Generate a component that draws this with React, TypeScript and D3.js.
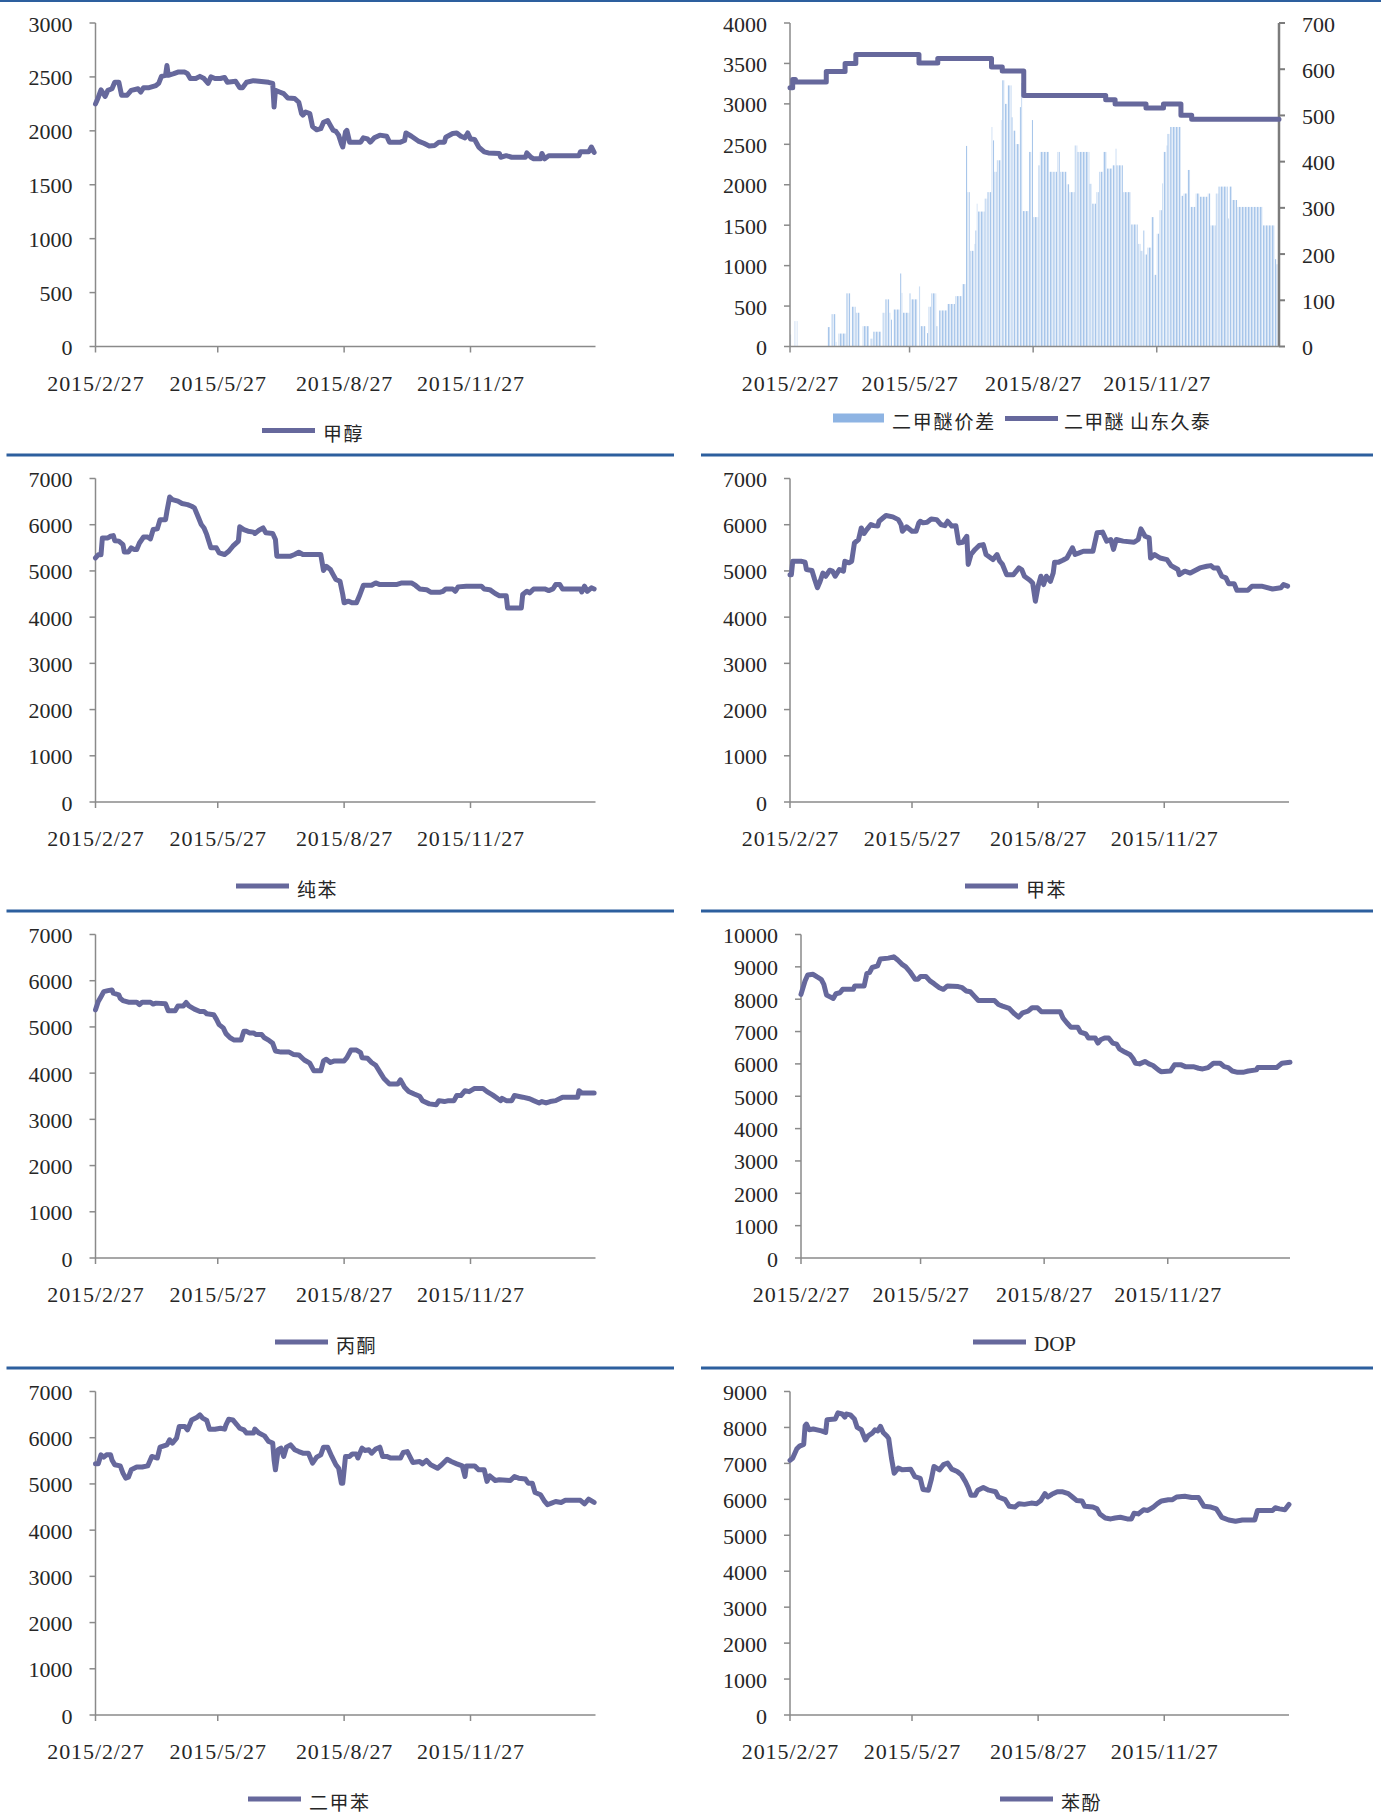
import * as d3 from "d3";

// days counted from 2015/2/27
const START = new Date(2015, 1, 27);
const END = d3.timeDay.offset(START, 364);

const tickDates = [new Date(2015, 1, 27), new Date(2015, 4, 27), new Date(2015, 7, 27), new Date(2015, 10, 27)];
const tickLabels = ["2015/2/27", "2015/5/27", "2015/8/27", "2015/11/27"];

type Pt = [number, number];
type Seg = [number, number, number];

const methanol: Pt[] = [[0,2250],[2,2310],[4,2380],[7,2320],[9,2375],[12,2390],[14,2450],[17,2450],[19,2330],[23,2330],[26,2375],[31,2390],[33,2360],[35,2400],[39,2400],[44,2420],[46,2440],[48,2505],[51,2515],[52,2605],[53,2515],[57,2530],[60,2545],[65,2545],[67,2530],[69,2485],[73,2485],[76,2505],[79,2485],[82,2440],[84,2500],[87,2485],[91,2485],[94,2495],[96,2450],[102,2460],[105,2400],[107,2400],[110,2450],[115,2465],[119,2460],[126,2450],[129,2440],[130,2220],[131,2375],[134,2360],[137,2345],[140,2305],[145,2300],[148,2265],[150,2160],[151,2145],[153,2175],[156,2160],[158,2040],[161,2010],[164,2020],[166,2080],[169,2095],[171,2050],[173,2005],[175,1995],[177,1960],[179,1880],[180,1850],[182,1990],[183,2005],[185,1895],[193,1895],[195,1935],[198,1925],[200,1895],[203,1935],[207,1960],[212,1950],[214,1895],[222,1895],[225,1910],[226,1980],[230,1950],[235,1905],[239,1885],[243,1860],[247,1865],[250,1895],[254,1895],[255,1940],[260,1975],[263,1980],[266,1950],[269,1935],[271,1980],[273,1925],[276,1920],[279,1850],[283,1805],[286,1795],[294,1790],[295,1755],[299,1770],[303,1755],[313,1755],[314,1795],[317,1755],[319,1740],[324,1740],[325,1790],[327,1740],[330,1770],[352,1770],[353,1805],[359,1805],[361,1850],[363,1800]];

const dmeSpread: Seg[] = [[0,1,26],[3,4,55],[5,6,55],[28,30,42],[31,34,70],[34,35,10],[36,42,28],[42,45,115],[46,49,86],[49,52,73],[54,59,44],[60,62,17],[62,68,32],[69,71,73],[71,74,102],[74,75,73],[75,76,58],[77,82,80],[82,83,158],[83,84,116],[84,89,73],[89,90,115],[90,95,102],[96,97,130],[97,101,44],[102,103,29],[103,105,86],[105,109,115],[109,110,44],[111,117,78],[117,123,92],[123,128,109],[128,131,135],[131,132,434],[132,134,334],[134,137,207],[137,138,222],[138,139,251],[139,140,309],[140,145,292],[145,147,320],[147,150,334],[150,151,475],[151,152,446],[152,154,378],[154,157,403],[157,158,490],[158,160,576],[160,162,525],[162,165,565],[165,166,496],[166,168,467],[168,171,438],[171,172,518],[172,173,570],[173,178,293],[178,180,421],[180,181,490],[181,185,280],[185,186,392],[186,193,421],[193,196,378],[196,199,378],[199,201,421],[201,206,378],[206,208,351],[208,212,334],[212,214,435],[214,223,421],[223,225,352],[225,228,309],[228,230,334],[230,233,378],[233,236,421],[236,240,385],[240,242,392],[242,243,428],[243,248,392],[248,254,334],[254,259,264],[259,261,222],[261,263,207],[263,264,251],[264,266,199],[266,269,214],[269,271,280],[271,273,155],[273,275,244],[275,277,295],[277,278,353],[278,280,421],[280,281,435],[281,283,460],[283,291,475],[291,293,326],[293,296,331],[296,298,382],[298,302,302],[302,305,331],[305,311,324],[311,313,331],[313,317,262],[317,319,331],[319,326,346],[326,327,277],[327,329,346],[329,333,317],[333,352,302],[352,361,262],[361,362,189],[362,364,178]];

const dmePrice: Pt[] = [[0,3200],[2,3300],[4,3270],[27,3400],[41,3500],[49,3610],[96,3505],[110,3560],[150,3455],[158,3405],[174,3105],[235,3050],[242,3000],[265,2950],[278,3000],[291,2860],[299,2810],[364,2810]];

const benzene: Pt[] = [[0,5280],[2,5350],[4,5350],[5,5715],[9,5715],[11,5750],[13,5765],[14,5655],[17,5645],[20,5570],[21,5410],[24,5410],[26,5500],[28,5465],[30,5465],[32,5605],[35,5735],[38,5735],[40,5695],[42,5895],[45,5910],[47,6110],[51,6110],[52,6290],[54,6600],[56,6545],[60,6510],[63,6460],[67,6435],[70,6400],[72,6365],[75,6150],[77,6005],[79,5930],[81,5785],[84,5500],[88,5500],[90,5390],[94,5355],[97,5425],[100,5535],[104,5645],[105,5955],[108,5895],[111,5860],[115,5840],[116,5810],[119,5880],[122,5930],[124,5825],[129,5810],[131,5680],[132,5320],[142,5320],[145,5355],[148,5405],[151,5355],[164,5355],[166,5010],[168,5100],[171,5030],[173,4920],[175,4815],[178,4775],[180,4490],[181,4310],[184,4345],[187,4310],[190,4310],[192,4450],[195,4690],[201,4690],[204,4740],[207,4705],[219,4705],[223,4740],[230,4740],[233,4685],[236,4610],[241,4595],[244,4540],[251,4540],[253,4560],[255,4610],[260,4610],[262,4560],[264,4655],[270,4670],[281,4670],[283,4610],[287,4595],[291,4510],[294,4465],[299,4465],[300,4200],[310,4200],[311,4490],[314,4560],[316,4525],[319,4610],[327,4610],[330,4575],[333,4610],[335,4705],[338,4705],[340,4610],[353,4610],[354,4545],[356,4670],[358,4560],[361,4635],[363,4610]];

const toluene: Pt[] = [[0,4920],[1,4920],[2,5210],[8,5210],[11,5190],[12,5030],[16,5010],[18,4815],[20,4635],[22,4775],[24,4955],[26,4885],[29,5015],[31,4995],[33,4885],[36,5030],[39,4995],[40,5210],[43,5175],[45,5210],[47,5605],[50,5680],[52,5930],[54,5810],[56,5895],[59,6005],[61,5980],[64,5970],[65,6075],[68,6150],[70,6200],[75,6170],[79,6110],[81,6005],[82,5860],[85,5955],[89,5860],[92,5860],[94,6040],[95,6075],[97,6040],[100,6055],[103,6125],[107,6110],[110,6005],[113,5980],[115,6075],[118,5970],[121,5980],[123,5605],[126,5620],[129,5750],[130,5140],[132,5355],[135,5465],[138,5550],[141,5570],[143,5355],[148,5245],[151,5355],[153,5210],[155,5140],[158,4920],[163,4920],[167,5065],[169,5030],[171,4885],[175,4800],[177,4740],[179,4345],[181,4670],[183,4885],[185,4705],[187,4885],[190,4775],[192,4955],[193,5190],[196,5190],[199,5230],[202,5280],[206,5500],[208,5355],[211,5390],[214,5425],[221,5425],[224,5825],[228,5840],[231,5645],[234,5680],[236,5465],[238,5680],[243,5645],[251,5620],[254,5680],[256,5910],[259,5750],[262,5715],[263,5280],[266,5355],[270,5280],[275,5245],[278,5115],[283,5030],[284,4920],[288,4995],[292,4955],[299,5065],[304,5100],[307,5115],[309,5065],[312,5065],[315,4885],[318,4850],[320,4725],[324,4725],[326,4580],[334,4580],[337,4670],[344,4670],[352,4610],[358,4635],[360,4705],[363,4670]];

const acetone: Pt[] = [[0,5370],[2,5550],[4,5655],[6,5765],[9,5785],[12,5800],[13,5730],[17,5695],[18,5620],[20,5570],[24,5535],[30,5535],[32,5480],[34,5535],[40,5535],[42,5495],[44,5515],[51,5500],[53,5350],[58,5350],[60,5455],[64,5455],[66,5530],[68,5455],[72,5385],[76,5335],[79,5335],[81,5285],[86,5265],[88,5170],[90,5050],[93,4980],[95,4855],[98,4765],[101,4715],[106,4715],[108,4905],[110,4905],[112,4870],[115,4870],[117,4835],[121,4835],[123,4765],[126,4715],[129,4645],[131,4480],[135,4455],[141,4455],[144,4405],[148,4395],[152,4285],[156,4215],[159,4050],[164,4050],[166,4265],[168,4300],[171,4230],[174,4265],[181,4265],[183,4335],[186,4500],[190,4500],[193,4445],[194,4335],[198,4320],[201,4230],[204,4170],[208,3980],[210,3885],[214,3765],[220,3765],[222,3855],[225,3695],[228,3605],[232,3550],[236,3500],[238,3405],[243,3335],[248,3315],[250,3405],[254,3385],[257,3405],[261,3405],[263,3515],[266,3515],[269,3620],[272,3600],[276,3670],[282,3670],[285,3600],[289,3530],[293,3445],[295,3405],[296,3455],[299,3405],[303,3405],[305,3515],[311,3480],[316,3445],[319,3405],[323,3355],[325,3385],[328,3355],[331,3385],[335,3405],[340,3480],[351,3480],[352,3620],[354,3570],[363,3570]];

const dop: Pt[] = [[0,8150],[3,8565],[5,8750],[9,8770],[12,8690],[15,8615],[17,8460],[19,8130],[22,8065],[24,8025],[26,8170],[29,8200],[31,8305],[39,8305],[40,8410],[47,8410],[49,8790],[51,8825],[53,8980],[57,9030],[59,9240],[65,9270],[69,9310],[72,9210],[75,9085],[78,9000],[81,8855],[85,8615],[87,8615],[89,8700],[93,8700],[96,8565],[99,8480],[103,8355],[106,8305],[109,8410],[117,8390],[120,8355],[123,8255],[126,8230],[129,8095],[132,7960],[144,7960],[147,7835],[150,7785],[155,7715],[159,7545],[162,7445],[165,7580],[169,7630],[172,7735],[176,7735],[179,7610],[193,7610],[195,7420],[198,7265],[201,7130],[206,7130],[208,6985],[212,6925],[214,6800],[219,6800],[221,6645],[223,6745],[226,6800],[229,6800],[232,6645],[235,6610],[237,6465],[241,6365],[245,6280],[247,6175],[249,6020],[252,6000],[256,6075],[259,6000],[262,5950],[266,5815],[268,5760],[275,5780],[278,5970],[283,5970],[286,5915],[292,5915],[296,5865],[299,5845],[303,5885],[307,6020],[312,6020],[315,5915],[318,5885],[321,5780],[325,5740],[329,5740],[333,5780],[339,5815],[340,5885],[354,5885],[358,6020],[364,6050]];

const xylene: Pt[] = [[0,5435],[2,5435],[4,5630],[6,5580],[8,5630],[11,5630],[12,5520],[14,5415],[18,5390],[20,5235],[22,5125],[24,5145],[26,5305],[30,5365],[34,5365],[38,5390],[41,5595],[45,5560],[47,5795],[52,5845],[54,5955],[56,5885],[59,5990],[61,6245],[65,6245],[67,6170],[70,6385],[74,6445],[76,6495],[78,6425],[81,6375],[83,6185],[87,6185],[91,6205],[94,6185],[95,6280],[97,6400],[100,6385],[103,6280],[105,6205],[108,6170],[110,6100],[115,6100],[116,6185],[119,6100],[123,6040],[126,5920],[129,5885],[130,5520],[131,5305],[133,5740],[135,5775],[137,5595],[139,5795],[142,5845],[145,5740],[148,5700],[151,5665],[155,5665],[158,5450],[161,5580],[164,5630],[166,5795],[169,5795],[172,5595],[175,5415],[177,5340],[179,5015],[180,5015],[182,5595],[185,5595],[187,5650],[190,5650],[191,5560],[194,5775],[196,5725],[199,5740],[201,5665],[204,5755],[207,5795],[209,5595],[212,5595],[215,5560],[222,5560],[224,5680],[227,5700],[231,5465],[236,5485],[238,5435],[241,5510],[244,5415],[249,5340],[252,5415],[256,5535],[259,5485],[263,5435],[267,5390],[269,5160],[270,5390],[276,5390],[279,5305],[283,5305],[285,5055],[287,5175],[291,5075],[294,5090],[302,5075],[305,5160],[308,5125],[313,5105],[315,5015],[318,5015],[320,4815],[324,4765],[327,4620],[329,4550],[332,4585],[335,4620],[339,4600],[342,4645],[353,4645],[356,4570],[359,4670],[363,4600]];

const phenol: Pt[] = [[0,7085],[2,7150],[5,7405],[7,7480],[10,7530],[11,8045],[12,8095],[14,7935],[17,7955],[23,7905],[26,7860],[27,8215],[33,8235],[35,8405],[38,8375],[40,8285],[41,8375],[44,8350],[47,8235],[49,8000],[52,7935],[55,7650],[57,7765],[60,7840],[62,7935],[64,7905],[66,8030],[68,7860],[71,7745],[72,7690],[74,7150],[76,6725],[79,6870],[82,6820],[88,6840],[91,6635],[95,6585],[97,6275],[101,6255],[103,6540],[105,6915],[109,6820],[112,6965],[115,7010],[118,6840],[122,6775],[125,6680],[128,6490],[130,6330],[132,6115],[135,6115],[137,6255],[141,6330],[145,6255],[150,6210],[152,6065],[157,5990],[160,5805],[164,5785],[167,5880],[171,5860],[176,5895],[180,5880],[183,5970],[186,6160],[188,6065],[191,6140],[195,6210],[199,6210],[203,6160],[206,6065],[209,5970],[213,5955],[215,5805],[221,5785],[224,5735],[226,5595],[230,5480],[234,5455],[237,5480],[241,5500],[246,5455],[249,5455],[251,5615],[254,5595],[258,5710],[261,5690],[265,5785],[268,5880],[271,5955],[276,5990],[279,5990],[282,6065],[288,6085],[293,6050],[298,6050],[302,5805],[307,5785],[311,5735],[315,5500],[320,5425],[325,5390],[330,5425],[339,5425],[341,5690],[352,5690],[354,5765],[357,5735],[361,5710],[364,5860]];

const LINE = "#66689c";
const AXIS = "#8a8a8a";
const TEXT = "#262626";
const SEP = "#2d5f9e";
const NUM_FONT = "'Liberation Serif', 'DejaVu Serif', serif";
const CJK_FONT = "'Noto Sans CJK SC', sans-serif";
const LINE_W = 5;

const ROWS = [-0.5, 455, 911, 1368];

const dayDate = (d: number) => d3.timeDay.offset(START, d);

interface PanelProps {
  x0: number;
  x1: number;
  row: number;
  yMax: number;
  yStep: number;
  data: Pt[];
  step?: boolean;
  legendX?: number;
  legendText?: string;
  rightMax?: number;
  rightStep?: number;
  bars?: Seg[];
}

function Panel({ x0, x1, row, yMax, yStep, data, step, legendX, legendText, rightMax, rightStep, bars }: PanelProps) {
  const top = row + 23.5;
  const bottom = row + 347;
  const x = d3.scaleTime().domain([START, END]).range([x0, x1]);
  const y = d3.scaleLinear().domain([0, yMax]).range([bottom, top]);
  const yTicks = d3.range(0, yMax + 1, yStep);
  const line = d3
    .line<Pt>()
    .x((d) => x(dayDate(d[0])))
    .y((d) => y(d[1]))
    .curve(step ? d3.curveStepAfter : d3.curveLinear);

  let yr: d3.ScaleLinear<number, number> | null = null;
  if (rightMax) yr = d3.scaleLinear().domain([0, rightMax]).range([bottom, top]);
  const latin = legendText ? /^[A-Za-z]+$/.test(legendText) : false;

  return (
    <g>
      {bars && yr &&
        bars.map((b, i) => (
          <rect
            key={i}
            x={x(dayDate(b[0]))}
            y={yr!(b[2])}
            width={Math.max(1.2, x(dayDate(b[1])) - x(dayDate(b[0])) - 0.3)}
            height={bottom - yr!(b[2])}
            fill="url(#barStripes)"
          />
        ))}
      {/* left axis */}
      <line x1={x0} x2={x0} y1={top} y2={bottom} stroke={AXIS} strokeWidth={1.5} />
      {yTicks.map((t) => (
        <g key={t}>
          <line x1={x0 - 6} x2={x0} y1={y(t)} y2={y(t)} stroke={AXIS} strokeWidth={1.5} />
          <text x={x0 - 23} y={y(t) + 1} textAnchor="end" dominantBaseline="central" fontFamily={NUM_FONT} fontSize={22} fill={TEXT}>
            {t}
          </text>
        </g>
      ))}
      {/* right axis */}
      {yr && rightStep && (
        <g>
          <line x1={x1} x2={x1} y1={top} y2={bottom} stroke="#7c7c7c" strokeWidth={2.5} />
          {d3.range(0, rightMax! + 1, rightStep).map((t) => (
            <g key={t}>
              <line x1={x1} x2={x1 + 6} y1={yr!(t)} y2={yr!(t)} stroke="#7c7c7c" strokeWidth={2} />
              <text x={x1 + 23} y={yr!(t) + 1} dominantBaseline="central" fontFamily={NUM_FONT} fontSize={22} fill={TEXT}>
                {t}
              </text>
            </g>
          ))}
        </g>
      )}
      {/* bottom axis */}
      <line x1={x0} x2={x1} y1={bottom} y2={bottom} stroke={AXIS} strokeWidth={1.5} />
      {tickDates.map((d, i) => (
        <g key={i}>
          <line x1={x(d)} x2={x(d)} y1={bottom} y2={bottom + 6} stroke={AXIS} strokeWidth={1.5} />
          <text
            x={x(d)}
            y={bottom + 44}
            textAnchor="middle"
            fontFamily={NUM_FONT}
            fontSize={22}
            fill={TEXT}
            textLength={tickLabels[i].length * 10.7}
            lengthAdjust="spacing"
          >
            {tickLabels[i]}
          </text>
        </g>
      ))}
      <path d={line(data) ?? ""} fill="none" stroke={LINE} strokeWidth={LINE_W} strokeLinejoin="round" strokeLinecap="round" />
      {legendX !== undefined && legendText && (
        <g>
          <line x1={legendX} x2={legendX + 53} y1={row + 431} y2={row + 431} stroke={LINE} strokeWidth={LINE_W} />
          <text
            x={legendX + 61}
            y={row + 433}
            dominantBaseline="central"
            fontFamily={latin ? NUM_FONT : CJK_FONT}
            fontSize={latin ? 21 : 19}
            letterSpacing={latin ? 0 : 1.5}
            fill={TEXT}
          >
            {legendText}
          </text>
        </g>
      )}
    </g>
  );
}

export default function App() {
  const W = 1381;
  const H = 1818;
  return (
    <div>
      <style>{`body{margin:0;background:#fff}`}</style>
      <svg width={W} height={H} style={{ display: "block", background: "#fff" }}>
        <defs>
          <pattern id="barStripes" patternUnits="userSpaceOnUse" width={3} height={10}>
            <rect x={0} y={0} width={3} height={10} fill="#d6e4f6" />
            <rect x={0} y={0} width={1.2} height={10} fill="#a8c6ea" />
            <rect x={2.4} y={0} width={0.6} height={10} fill="#eef4fb" />
          </pattern>
        </defs>

        {/* separators */}
        <rect x={0} y={0} width={W} height={2} fill={SEP} />
        {ROWS.slice(1).map((r) => (
          <g key={r}>
            <rect x={6.5} y={r - 1.5} width={667.5} height={3} fill={SEP} />
            <rect x={701} y={r - 1.5} width={672} height={3} fill={SEP} />
          </g>
        ))}

        <Panel x0={95.5} x1={595.5} row={ROWS[0]} yMax={3000} yStep={500} data={methanol} legendX={262} legendText="甲醇" />

        <Panel
          x0={790}
          x1={1279}
          row={ROWS[0]}
          yMax={4000}
          yStep={500}
          data={dmePrice}
          step
          rightMax={700}
          rightStep={100}
          bars={dmeSpread}
        />
        <g>
          <rect x={833} y={ROWS[0] + 414} width={51} height={9} fill="#8eb4e3" />
          <text x={892} y={ROWS[0] + 421} dominantBaseline="central" fontFamily={CJK_FONT} fontSize={19} letterSpacing={1.8} fill={TEXT}>
            二甲醚价差
          </text>
          <line x1={1005} x2={1058} y1={ROWS[0] + 419} y2={ROWS[0] + 419} stroke={LINE} strokeWidth={LINE_W} />
          <text x={1064} y={ROWS[0] + 421} dominantBaseline="central" fontFamily={CJK_FONT} fontSize={19} letterSpacing={1.2} fill={TEXT}>
            二甲醚 山东久泰
          </text>
        </g>

        <Panel x0={95.5} x1={595.5} row={ROWS[1]} yMax={7000} yStep={1000} data={benzene} legendX={236} legendText="纯苯" />
        <Panel x0={790} x1={1289} row={ROWS[1]} yMax={7000} yStep={1000} data={toluene} legendX={965} legendText="甲苯" />
        <Panel x0={95.5} x1={595.5} row={ROWS[2]} yMax={7000} yStep={1000} data={acetone} legendX={275} legendText="丙酮" />
        <Panel x0={801} x1={1290} row={ROWS[2]} yMax={10000} yStep={1000} data={dop} legendX={973} legendText="DOP" />
        <Panel x0={95.5} x1={595.5} row={ROWS[3]} yMax={7000} yStep={1000} data={xylene} legendX={248} legendText="二甲苯" />
        <Panel x0={790} x1={1289} row={ROWS[3]} yMax={9000} yStep={1000} data={phenol} legendX={1000} legendText="苯酚" />
      </svg>
    </div>
  );
}
